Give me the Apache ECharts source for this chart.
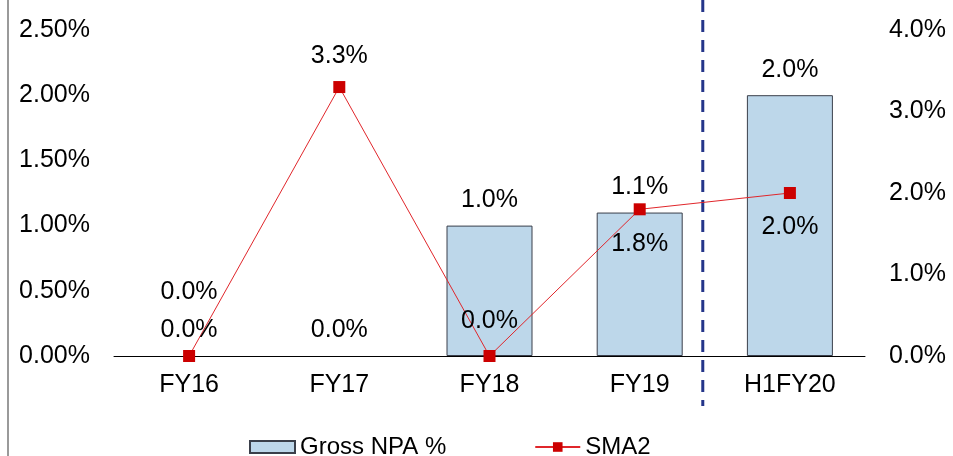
<!DOCTYPE html>
<html>
<head>
<meta charset="utf-8">
<script src="https://cdn.jsdelivr.net/npm/echarts@6/dist/echarts.min.js"></script>
<style>html,body{margin:0;padding:0;background:#fff;}#c{width:953px;height:456px;}</style>
</head>
<body>
<div id="c"></div>
<script>
const categories = ['FY16', 'FY17', 'FY18', 'FY19', 'H1FY20'];
const grossNpa = [0.0, 0.0, 1.0, 1.1, 2.0];
const sma2 = [0.0, 3.3, 0.0, 1.8, 2.0];
const seriesNames = ['Gross NPA %', 'SMA2'];

const FONT = '"Liberation Sans", Arial, sans-serif';
const FS = 25;

const barLabelOffsets = [[0, -38], [0, 0], [0, 0], [0, 0], [0, 0]];
const lineLabelPos = ['top', 'top', 'top', 'bottom', 'bottom'];
const lineLabelDist = [7, 12, 16, 16, 16];

const chart = echarts.init(document.getElementById('c'), null, {renderer: 'canvas'});

const option = {
  animation: false,
  backgroundColor: '#ffffff',
  textStyle: {fontFamily: FONT},
  grid: {left: 114, right: 88, top: 30, bottom: 100},
  legend: {
    left: 244, top: 430,
    itemWidth: 45, itemHeight: 12, itemGap: 88,
    textStyle: {fontSize: 24, color: '#000', fontFamily: FONT},
    data: [{name: seriesNames[0], icon: 'rect'}, {name: seriesNames[1]}]
  },
  xAxis: {
    type: 'category',
    data: categories,
    boundaryGap: true,
    axisLine: {lineStyle: {color: '#000', width: 1}},
    axisTick: {show: false},
    axisLabel: {color: '#000', fontSize: FS, fontFamily: FONT, margin: 17}
  },
  yAxis: [
    {
      type: 'value', min: 0, max: 2.5, interval: 0.5,
      axisLine: {show: false}, axisTick: {show: false}, splitLine: {show: false},
      axisLabel: {color: '#000', fontSize: FS, fontFamily: FONT, margin: 24,
        formatter: v => v.toFixed(2) + '%'}
    },
    {
      type: 'value', min: 0, max: 4, interval: 1, position: 'right',
      axisLine: {show: false}, axisTick: {show: false}, splitLine: {show: false},
      axisLabel: {color: '#000', fontSize: FS, fontFamily: FONT, margin: 24,
        formatter: v => v.toFixed(1) + '%'}
    }
  ],
  series: [
    {
      name: seriesNames[0],
      type: 'bar',
      yAxisIndex: 0,
      barWidth: 86,
      itemStyle: {color: '#BDD7EA', borderColor: '#3A3F4A', borderWidth: 1},
      data: grossNpa.map((v, i) => ({
        value: v,
        itemStyle: v === 0 ? {borderWidth: 0} : undefined,
        label: {offset: barLabelOffsets[i]}
      })),
      label: {
        show: true, position: 'top', distance: 13,
        color: '#000', fontSize: FS, fontFamily: FONT,
        formatter: p => p.value.toFixed(1) + '%'
      }
    },
    {
      name: seriesNames[1],
      type: 'line',
      yAxisIndex: 1,
      symbol: 'rect',
      symbolSize: 12,
      z: 5,
      lineStyle: {color: '#E0262B', width: 1},
      itemStyle: {color: '#CC0000'},
      data: sma2.map((v, i) => ({
        value: v,
        label: {position: lineLabelPos[i], distance: lineLabelDist[i]}
      })),
      label: {
        show: true,
        color: '#000', fontSize: FS, fontFamily: FONT,
        formatter: p => p.value.toFixed(1) + '%'
      }
    }
  ]
};

chart.setOption(option);

function drawDecor() {
  const x3 = chart.convertToPixel({xAxisIndex: 0}, categories[3]);
  const x4 = chart.convertToPixel({xAxisIndex: 0}, categories[4]);
  const xd = x3 + 0.42 * (x4 - x3);
  chart.setOption({
    graphic: [
      {type: 'line', shape: {x1: 8, y1: 0, x2: 8, y2: 456},
        style: {stroke: '#9A9A9A', lineWidth: 2}, silent: true},
      {type: 'line', shape: {x1: xd, y1: 0, x2: xd, y2: 406},
        style: {stroke: '#24358A', lineWidth: 3, lineDash: [12, 8]}, silent: true}
    ]
  });
}
drawDecor();
</script>
</body>
</html>
